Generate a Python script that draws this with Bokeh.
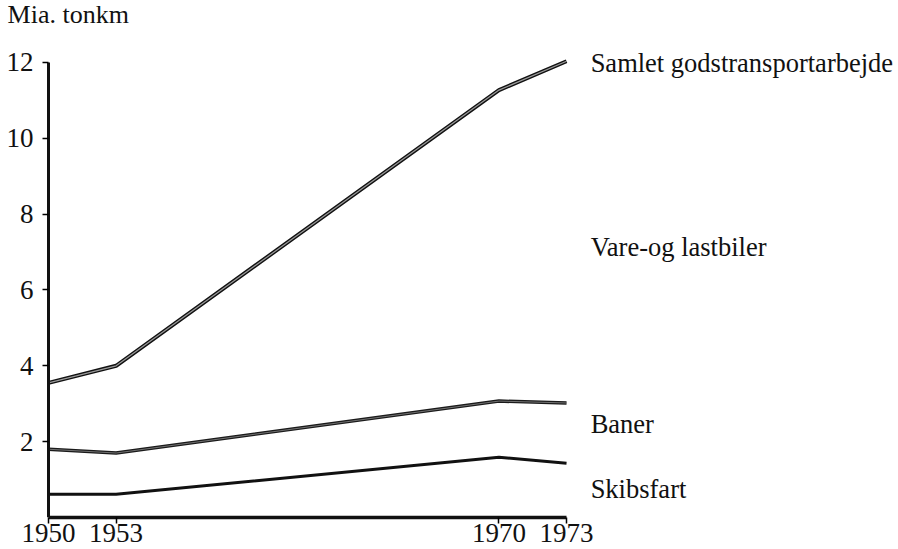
from bokeh.plotting import figure
from bokeh.models import Range1d, FixedTicker
from bokeh.core.properties import value
from bokeh.embed import file_html
from bokeh.resources import INLINE

years = [1950, 1953, 1970, 1973]
samlet = [3.55, 4.0, 11.27, 12.03]
baner = [1.80, 1.70, 3.07, 3.02]
skibsfart = [0.61, 0.61, 1.59, 1.43]
y_ticks = [2, 4, 6, 8, 10, 12]
x_ticks = [1950, 1953, 1970, 1973]
labels = ["Samlet godstransportarbejde", "Vare-og lastbiler", "Baner", "Skibsfart"]
label_y = [11.98, 7.14, 2.47, 0.74]
label_x = 1974.07
unit_text = ["Mia. tonkm"]

FONT = "Liberation Serif"

p = figure(width=898, height=549, output_backend="svg", toolbar_location=None,
           x_range=Range1d(1948.0, 1987.74), y_range=Range1d(0, 13.58),
           min_border_left=3, min_border_right=0, min_border_top=2, min_border_bottom=32)
p.background_fill_color = "white"
p.border_fill_color = "white"
p.outline_line_color = None
p.xgrid.visible = False
p.ygrid.visible = False

# y axis, placed at 1950 and limited to 0..12
p.yaxis.fixed_location = years[0]
p.yaxis.bounds = (0, y_ticks[-1])
p.yaxis.ticker = FixedTicker(ticks=y_ticks)
p.yaxis.axis_line_width = 3
p.yaxis.axis_line_color = "#111111"
p.yaxis.major_tick_out = 6
p.yaxis.major_tick_in = 0
p.yaxis.minor_tick_out = 0
p.yaxis.minor_tick_in = 0
p.yaxis.major_tick_line_width = 1.5
p.yaxis.major_label_standoff = 9
p.yaxis.major_label_text_font = FONT
p.yaxis.major_label_text_font_size = "27px"
p.yaxis.major_label_text_color = "#111111"

# x axis limited to 1950..1973
p.xaxis.bounds = (years[0], years[-1])
p.xaxis.ticker = FixedTicker(ticks=x_ticks)
p.xaxis.axis_line_width = 3.5
p.xaxis.axis_line_color = "#111111"
p.xaxis.major_tick_out = 6
p.xaxis.major_tick_in = 0
p.xaxis.minor_tick_out = 0
p.xaxis.minor_tick_in = 0
p.xaxis.major_tick_line_width = 1.5
p.xaxis.major_label_standoff = 0
p.xaxis.major_label_text_line_height = 0.6
p.xaxis.major_label_text_font = FONT
p.xaxis.major_label_text_font_size = "27px"
p.xaxis.major_label_text_color = "#111111"

# total
p.line(years, samlet, line_color="#111111", line_width=4)
p.line(years, samlet, line_color="#9a9a9a", line_width=1.2)
# rail
p.line(years, baner, line_color="#1a1a1a", line_width=3.5)
p.line(years, baner, line_color="#8a8a8a", line_width=0.8)
# shipping
p.line(years, skibsfart, line_color="#111111", line_width=3)

p.text(x=[label_x] * len(labels), y=label_y, text=labels,
       text_font=value(FONT), text_font_size="26.5px", text_color="#111111",
       text_baseline="alphabetic", text_align="left")

# unit caption above the y axis
p.text(x=[1948.18], y=[13.26], text=unit_text,
       text_font=value(FONT), text_font_size="26px", text_color="#111111",
       text_baseline="alphabetic", text_align="left")

open("out.html", "w").write(file_html(p, INLINE))
